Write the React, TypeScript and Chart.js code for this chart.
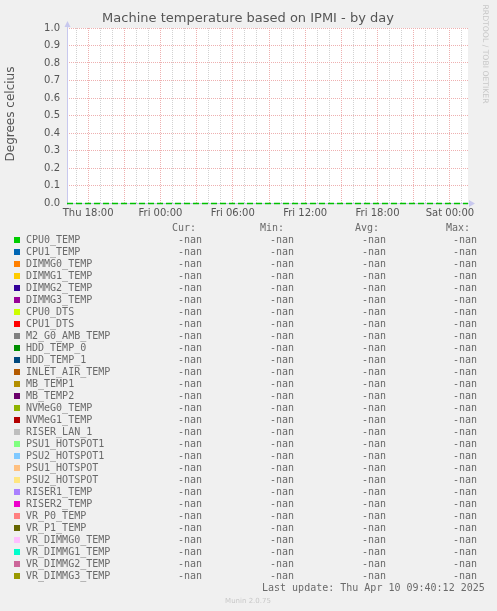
import { useEffect, useRef } from "react"
import { Chart, registerables } from "chart.js"

Chart.register(...registerables)

// hours relative to Thu 18:00
const xMin = -1.75
const xMax = 31.5
const gridHours = [-1, 0, 1, 2, 3, 4, 5, 6, 7, 8, 9, 10, 11, 12, 13, 14, 15, 16, 17, 18, 19, 20, 21, 22, 23, 24, 25, 26, 27, 28, 29, 30, 31]
const labelHours = [0, 6, 12, 18, 24, 30]
const tickLabels = ["Thu 18:00", "Fri 00:00", "Fri 06:00", "Fri 12:00", "Fri 18:00", "Sat 00:00"]
const yTicks = [0, 0.1, 0.2, 0.3, 0.4, 0.5, 0.6, 0.7, 0.8, 0.9, 1.0]

const seriesNames = [
  "CPU0_TEMP", "CPU1_TEMP", "DIMMG0_TEMP", "DIMMG1_TEMP", "DIMMG2_TEMP", "DIMMG3_TEMP",
  "CPU0_DTS", "CPU1_DTS", "M2_G0_AMB_TEMP", "HDD_TEMP_0", "HDD_TEMP_1", "INLET_AIR_TEMP",
  "MB_TEMP1", "MB_TEMP2", "NVMeG0_TEMP", "NVMeG1_TEMP", "RISER_LAN_1", "PSU1_HOTSPOT1",
  "PSU2_HOTSPOT1", "PSU1_HOTSPOT", "PSU2_HOTSPOT", "RISER1_TEMP", "RISER2_TEMP", "VR_P0_TEMP",
  "VR_P1_TEMP", "VR_DIMMG0_TEMP", "VR_DIMMG1_TEMP", "VR_DIMMG2_TEMP", "VR_DIMMG3_TEMP",
]
const seriesColors = [
  "#00CC00", "#0066B3", "#FF8000", "#FFCC00", "#330099", "#990099",
  "#CCFF00", "#FF0000", "#808080", "#008F00", "#00487D", "#B35A00",
  "#B38F00", "#6B006B", "#8FB300", "#B30000", "#BEBEBE", "#80FF80",
  "#80C9FF", "#FFC080", "#FFE680", "#AA80FF", "#EE00CC", "#FF8080",
  "#666600", "#FFBFFF", "#00FFCC", "#CC6699", "#999900",
]
// every series reads "-nan" in the legend
const curValues = seriesNames.map(() => NaN)
const minValues = seriesNames.map(() => NaN)
const avgValues = seriesNames.map(() => NaN)
const maxValues = seriesNames.map(() => NaN)

const fmt = (v: number) => (isNaN(v) ? "-nan" : v.toFixed(2))

const muninPlugin = {
  id: "munin",
  beforeDraw(chart: Chart) {
    const { ctx, chartArea } = chart
    ctx.save()
    ctx.fillStyle = "#f0f0f0"
    ctx.fillRect(0, 0, chart.width, chart.height)
    ctx.fillStyle = "#ffffff"
    ctx.fillRect(chartArea.left, chartArea.top, chartArea.right - chartArea.left, chartArea.bottom - chartArea.top)
    ctx.restore()
  },
  afterDraw(chart: Chart) {
    const { ctx, chartArea } = chart
    const y0 = Math.round(chart.scales.y.getPixelForValue(0))
    ctx.save()

    // axes with arrows
    ctx.strokeStyle = "#c8c8ee"
    ctx.fillStyle = "#c8c8ee"
    ctx.lineWidth = 1
    ctx.beginPath()
    ctx.moveTo(chartArea.left + 0.5, chartArea.bottom + 2)
    ctx.lineTo(chartArea.left + 0.5, chartArea.top - 2)
    ctx.stroke()
    ctx.beginPath()
    ctx.moveTo(chartArea.left, y0 + 0.5)
    ctx.lineTo(chartArea.right + 2, y0 + 0.5)
    ctx.stroke()
    ctx.beginPath()
    ctx.moveTo(chartArea.left - 2.5, chartArea.top - 1)
    ctx.lineTo(chartArea.left + 3.5, chartArea.top - 1)
    ctx.lineTo(chartArea.left + 0.5, chartArea.top - 7)
    ctx.fill()
    ctx.beginPath()
    ctx.moveTo(chartArea.right + 1, y0 - 3)
    ctx.lineTo(chartArea.right + 1, y0 + 4)
    ctx.lineTo(chartArea.right + 7, y0 + 0.5)
    ctx.fill()

    // zero line
    ctx.strokeStyle = "#00c000"
    ctx.lineWidth = 1.3
    ctx.setLineDash([6, 3])
    ctx.beginPath()
    ctx.moveTo(chartArea.left, y0 + 0.5)
    ctx.lineTo(chartArea.right, y0 + 0.5)
    ctx.stroke()
    ctx.setLineDash([])
    ctx.lineWidth = 1

    // title
    ctx.fillStyle = "#555555"
    ctx.font = "13px 'DejaVu Sans'"
    ctx.textAlign = "center"
    ctx.textBaseline = "middle"
    ctx.fillText("Machine temperature based on IPMI - by day", 248, 19)

    // vertical axis title
    ctx.save()
    ctx.translate(11, 114)
    ctx.rotate(-Math.PI / 2)
    ctx.font = "12px 'DejaVu Sans'"
    ctx.fillText("Degrees celcius", 0, 0)
    ctx.restore()

    // rrdtool watermark
    ctx.save()
    ctx.translate(485, 54)
    ctx.rotate(Math.PI / 2)
    ctx.fillStyle = "#c8c8c8"
    ctx.font = "7.7px 'DejaVu Sans'"
    ctx.fillText("RRDTOOL / TOBI OETIKER", 0, 0)
    ctx.restore()

    // legend table
    ctx.font = "10px 'DejaVu Sans Mono'"
    ctx.textAlign = "left"
    ctx.fillStyle = "#6a6a6a"
    ctx.fillText("Cur:", 172, 228)
    ctx.fillText("Min:", 260, 228)
    ctx.fillText("Avg:", 355, 228)
    ctx.fillText("Max:", 446, 228)
    seriesNames.forEach((name, i) => {
      const y = 240 + i * 12
      ctx.fillStyle = seriesColors[i]
      ctx.fillRect(14, y - 3, 6, 6)
      ctx.fillStyle = "#6a6a6a"
      ctx.fillText(name, 26, y)
      ctx.fillText(fmt(curValues[i]), 178, y)
      ctx.fillText(fmt(minValues[i]), 270, y)
      ctx.fillText(fmt(avgValues[i]), 362, y)
      ctx.fillText(fmt(maxValues[i]), 453, y)
    })
    ctx.fillText("Last update: Thu Apr 10 09:40:12 2025", 262, 588)

    ctx.fillStyle = "#c8c8c8"
    ctx.font = "7px 'DejaVu Sans'"
    ctx.textAlign = "center"
    ctx.fillText("Munin 2.0.75", 248, 601)
    ctx.restore()
  },
}

export default function App() {
  const chartRef = useRef<HTMLCanvasElement>(null)
  const chartInstance = useRef<Chart | null>(null)

  useEffect(() => {
    if (!chartRef.current) return
    if (chartInstance.current) chartInstance.current.destroy()
    const ctx = chartRef.current.getContext("2d")
    if (!ctx) return

    chartInstance.current = new Chart(ctx, {
      type: "line",
      data: {
        datasets: seriesNames.map((name, i) => ({
          label: name,
          data: [{ x: xMax, y: curValues[i] }],
          borderColor: seriesColors[i],
          backgroundColor: seriesColors[i],
          borderWidth: 1,
          pointRadius: 0,
        })),
      },
      options: {
        responsive: true,
        maintainAspectRatio: false,
        animation: false,
        layout: { padding: { left: 8, right: 29, top: 28, bottom: 388 } },
        plugins: { legend: { display: false }, tooltip: { enabled: false } },
        scales: {
          x: {
            type: "linear",
            min: xMin,
            max: xMax,
            afterBuildTicks: (scale: any) => {
              scale.ticks = gridHours.map((v) => ({ value: v }))
            },
            afterFit: (scale: any) => {
              scale.height = 20
            },
            grid: {
              color: (c: any) => (c.tick && c.tick.value % 3 === 0 ? "#eeb0b0" : "#d2d2d2"),
              drawTicks: false,
            },
            border: { display: false, dash: [1, 1] },
            ticks: {
              autoSkip: false,
              maxRotation: 0,
              padding: 4,
              color: "#555555",
              font: { family: "'DejaVu Sans'", size: 10 },
              callback: (v: any) => {
                const idx = labelHours.indexOf(Number(v))
                return idx >= 0 ? tickLabels[idx] : ""
              },
            },
          },
          y: {
            min: 0,
            max: 1,
            afterBuildTicks: (scale: any) => {
              scale.ticks = yTicks.map((v) => ({ value: v }))
            },
            afterFit: (scale: any) => {
              scale.width = 59
            },
            grid: { color: "#eeb0b0", drawTicks: false },
            border: { display: false, dash: [1, 1] },
            ticks: {
              padding: 7,
              color: "#555555",
              font: { family: "'DejaVu Sans'", size: 10 },
              callback: (v: any) => Number(v).toFixed(1),
            },
          },
        },
      },
      plugins: [muninPlugin],
    })

    return () => {
      if (chartInstance.current) chartInstance.current.destroy()
    }
  }, [])

  return (
    <div style={{ position: "absolute", left: 0, top: 0, width: 497, height: 611 }}>
      <canvas ref={chartRef} />
    </div>
  )
}
